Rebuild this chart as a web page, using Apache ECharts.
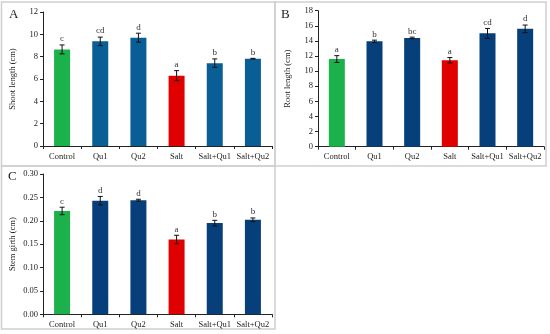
<!DOCTYPE html>
<html>
<head>
<meta charset="utf-8">
<script src="https://cdn.jsdelivr.net/npm/echarts@6/dist/echarts.min.js"></script>
<style>html,body{margin:0;padding:0;background:#fff}#c{width:550px;height:334px}</style>
</head>
<body>
<div id="c"></div>
<script>
var categories = ['Control', 'Qu1', 'Qu2', 'Salt', 'Salt+Qu1', 'Salt+Qu2'];

var shootLength = [8.65, 9.37, 9.7, 6.3, 7.42, 7.82];
var shootErr = [0.4, 0.38, 0.4, 0.45, 0.38, 0.03];
var shootLetters = ['c', 'cd', 'd', 'a', 'b', 'b'];

var rootLength = [11.6, 13.95, 14.4, 11.45, 15.0, 15.6];
var rootErr = [0.45, 0.15, 0.1, 0.35, 0.65, 0.5];
var rootLetters = ['a', 'b', 'bc', 'a', 'cd', 'd'];

var stemGirth = [0.221, 0.243, 0.244, 0.160, 0.195, 0.202];
var girthErr = [0.008, 0.009, 0.002, 0.009, 0.006, 0.004];
var girthLetters = ['c', 'd', 'd', 'a', 'b', 'b'];

var green = '#1cb24b', red = '#e00000', blueA = '#0a5e96', blueBC = '#073f7a';
var colorsA = [green, blueA, blueA, red, blueA, blueA];
var colorsBC = [green, blueBC, blueBC, red, blueBC, blueBC];

var FONT = 'Liberation Serif, Times New Roman, serif';
var chart = echarts.init(document.getElementById('c'));

function errRender(letters) {
  return function (params, api) {
    var i = api.value(0), v = api.value(1), e = api.value(2);
    var top = api.coord([i, v + e]), bot = api.coord([i, v - e]);
    var cap = 2.5;
    var st = {stroke: '#111', lineWidth: 1};
    return {type: 'group', children: [
      {type: 'line', shape: {x1: top[0], y1: top[1], x2: bot[0], y2: bot[1]}, style: st},
      {type: 'line', shape: {x1: top[0] - cap, y1: top[1], x2: top[0] + cap, y2: top[1]}, style: st},
      {type: 'line', shape: {x1: bot[0] - cap, y1: bot[1], x2: bot[0] + cap, y2: bot[1]}, style: st},
      {type: 'text', style: {text: letters[i], x: top[0], y: top[1] - 1.5, textAlign: 'center', textVerticalAlign: 'bottom', fontFamily: FONT, fontSize: 9, fill: '#333'}}
    ]};
  };
}

function xAxis(idx) {
  return {type: 'category', gridIndex: idx, data: categories,
    axisLine: {lineStyle: {color: '#222', width: 1}},
    axisTick: {show: true, length: 3, lineStyle: {color: '#222'}},
    axisLabel: {fontFamily: FONT, fontSize: 8.5, color: '#222', margin: 6, interval: 0}};
}
function yAxis(idx, name, max, interval, dec) {
  return {type: 'value', gridIndex: idx, min: 0, max: max, interval: interval,
    name: name, nameLocation: 'middle', nameGap: 26, nameRotate: 90,
    nameTextStyle: {fontFamily: FONT, fontSize: 8.5, color: '#222'},
    splitLine: {show: false},
    axisLine: {show: true, lineStyle: {color: '#222', width: 1}},
    axisTick: {show: true, length: 3, lineStyle: {color: '#222'}},
    axisLabel: {fontFamily: FONT, fontSize: 8.5, color: '#222', margin: 5,
      formatter: function (v) { return v.toFixed(dec); }}};
}
function barSeries(idx, vals, colors) {
  return {type: 'bar', xAxisIndex: idx, yAxisIndex: idx, barWidth: 16,
    data: vals.map(function (v, i) { return {value: v, itemStyle: {color: colors[i]}}; }),
    silent: true};
}
function errSeries(idx, vals, errs, letters) {
  return {type: 'custom', xAxisIndex: idx, yAxisIndex: idx, renderItem: errRender(letters),
    encode: {x: 0, y: 1}, z: 5,
    data: vals.map(function (v, i) { return [i, v, errs[i]]; })};
}

var boxStyle = {fill: 'none', stroke: '#cfcfcf', lineWidth: 1.5};
chart.setOption({
  animation: false,
  grid: [
    {left: 43, top: 12, width: 229, height: 134},
    {left: 318, top: 10.7, width: 226, height: 136},
    {left: 43, top: 174, width: 229, height: 140.3}
  ],
  xAxis: [xAxis(0), xAxis(1), xAxis(2)],
  yAxis: [yAxis(0, 'Shoot length (cm)', 12, 2, 0), yAxis(1, 'Root length (cm)', 18, 2, 0), yAxis(2, 'Stem girth (cm)', 0.30, 0.05, 2)],
  series: [
    barSeries(0, shootLength, colorsA), errSeries(0, shootLength, shootErr, shootLetters),
    barSeries(1, rootLength, colorsBC), errSeries(1, rootLength, rootErr, rootLetters),
    barSeries(2, stemGirth, colorsBC), errSeries(2, stemGirth, girthErr, girthLetters)
  ],
  graphic: [
    {type: 'rect', shape: {x: 1.5, y: 2, width: 273.5, height: 164}, style: boxStyle, silent: true},
    {type: 'rect', shape: {x: 275, y: 2, width: 271, height: 164}, style: boxStyle, silent: true},
    {type: 'rect', shape: {x: 1.5, y: 166, width: 273.5, height: 163}, style: boxStyle, silent: true},
    {type: 'text', left: 9, top: 8, style: {text: 'A', fontFamily: FONT, fontSize: 13, fill: '#222'}},
    {type: 'text', left: 281, top: 8, style: {text: 'B', fontFamily: FONT, fontSize: 13, fill: '#222'}},
    {type: 'text', left: 8, top: 170, style: {text: 'C', fontFamily: FONT, fontSize: 13, fill: '#222'}}
  ]
});
</script>
</body>
</html>
